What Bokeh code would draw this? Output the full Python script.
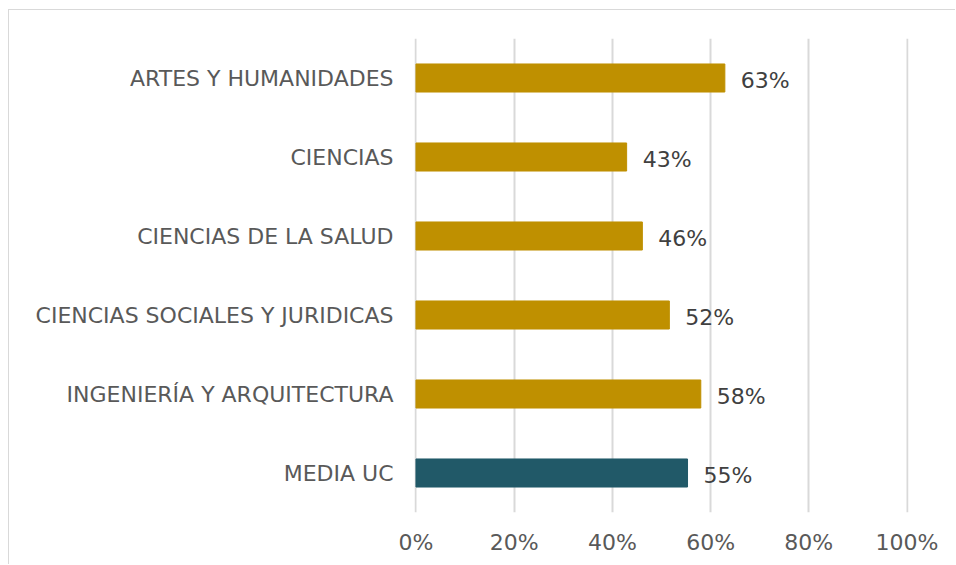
from bokeh.plotting import figure
from bokeh.models import ColumnDataSource, NumeralTickFormatter, FixedTicker, Range1d
from bokeh.embed import file_html
from bokeh.resources import INLINE
from bokeh.core.properties import value

categories = ["MEDIA UC", "INGENIERÍA Y ARQUITECTURA", "CIENCIAS SOCIALES Y JURIDICAS",
              "CIENCIAS DE LA SALUD", "CIENCIAS", "ARTES Y HUMANIDADES"]
values = [0.553, 0.58, 0.516, 0.461, 0.429, 0.629]
labels = ["55%", "58%", "52%", "46%", "43%", "63%"]
colors = ["#215968", "#BF9000", "#BF9000", "#BF9000", "#BF9000", "#BF9000"]
x_ticks = [0, 0.2, 0.4, 0.6, 0.8, 1.0]

FONT = "DejaVu Sans"
FS = "22px"

src = ColumnDataSource(dict(cat=categories, val=values, lab=labels, col=colors))

p = figure(width=947, height=555, y_range=categories, x_range=Range1d(-0.003, 1.003),
           output_backend="svg", toolbar_location=None,
           min_border_left=405, min_border_right=48, min_border_top=28, min_border_bottom=53,
           margin=(9, 0, 0, 8),
           styles={"border-top": "1px solid #d9d9d9", "border-left": "1px solid #d9d9d9"})
p.outline_line_color = None
p.background_fill_color = "white"
p.border_fill_color = "white"

p.hbar(y="cat", right="val", left=0, height=0.355, color="col", source=src)
p.text(x="val", y="cat", text="lab", source=src, x_offset=16, y_offset=2,
       text_font=value(FONT), text_font_size=FS, text_color="#404040",
       text_baseline="middle", text_align="left")

p.xaxis.ticker = FixedTicker(ticks=x_ticks)
p.xaxis.formatter = NumeralTickFormatter(format="0%")
p.xaxis.axis_line_color = None
p.xaxis.major_tick_line_color = None
p.xaxis.minor_tick_line_color = None
p.xaxis.major_label_text_font = FONT
p.xaxis.major_label_text_font_size = FS
p.xaxis.major_label_text_color = "#595959"
p.xaxis.major_label_standoff = 11

p.yaxis.axis_line_color = None
p.yaxis.major_tick_line_color = None
p.yaxis.minor_tick_line_color = None
p.yaxis.major_label_text_font = FONT
p.yaxis.major_label_text_font_size = FS
p.yaxis.major_label_text_color = "#595959"
p.yaxis.major_label_standoff = 15

p.xgrid.grid_line_color = "#d9d9d9"
p.xgrid.grid_line_width = 2
p.ygrid.grid_line_color = None
p.y_range.range_padding = 0

open("out.html", "w").write(file_html(p, INLINE))
